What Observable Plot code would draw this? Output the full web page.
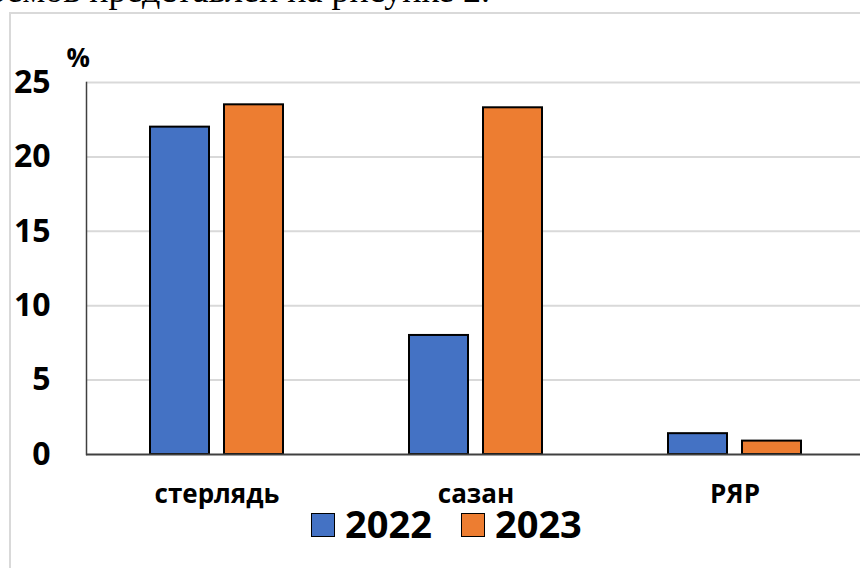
<!DOCTYPE html>
<html>
<head>
<meta charset="utf-8">
<script src="https://cdn.jsdelivr.net/npm/d3@7"></script>
<script src="https://cdn.jsdelivr.net/npm/@observablehq/plot@0.6"></script>
<style>
  html, body { margin: 0; padding: 0; background: #fff; }
  #page { position: relative; width: 860px; height: 568px; overflow: hidden; background: #fff; }
  #lead { position: absolute; right: 370px; top: -28px; font-family: "Liberation Serif", "DejaVu Serif", serif; font-size: 36px; color: #000; white-space: nowrap; line-height: 36px; }
  #box { position: absolute; left: 9px; top: 12px; width: 900px; height: 600px; border-left: 2px solid #d9d9d9; border-top: 2px solid #d9d9d9; box-sizing: border-box; }
  #chart { position: absolute; left: 0; top: 0; }
  #chart svg { overflow: visible; }
  #legend { position: absolute; top: 497px; left: 311px; display: flex; align-items: center; font-family: "Open Sans", sans-serif; font-weight: 700; font-size: 38px; line-height: normal; color: #000; }
  .item { display: flex; align-items: center; }
  .sw { width: 22px; height: 22px; border: 1.5px solid #000; margin-right: 10px; position: relative; top: 2px; }
  .item + .item { margin-left: 29px; }
</style>
</head>
<body>
<div id="page">
  <div id="lead">водоемов представлен на рисунке 2.</div>
  <div id="box"></div>
  <div id="chart"></div>
  <div id="legend"></div>
</div>
<script>
// Share of species by year, %
const categories = ["стерлядь", "сазан", "РЯР"];
const years = ["2022", "2023"];
const values2022 = [22.0, 8.0, 1.4];
const values2023 = [23.5, 23.3, 0.9];
const yTicks = [0, 5, 10, 15, 20, 25];
const unitLabel = "%";

const colors = { "2022": "#4472C4", "2023": "#ED7D31" };
const rows2022 = categories.map((c, i) => ({ category: c, year: "2022", value: values2022[i] }));
const rows2023 = categories.map((c, i) => ({ category: c, year: "2023", value: values2023[i] }));

const font = "'Open Sans', sans-serif";
const barStyle = { stroke: "#000", strokeWidth: 2, insetLeft: 100, insetRight: 100 };

const chart = Plot.plot({
  width: 860,
  height: 530,
  marginLeft: 86,
  marginRight: -4.5,
  marginTop: 82,
  marginBottom: 76,
  style: { fontFamily: font, background: "transparent", overflow: "visible" },
  x: { type: "band", domain: categories, padding: 0 },
  y: { domain: [0, 25] },
  marks: [
    Plot.ruleY(yTicks.filter(d => d > 0), { stroke: "#d9d9d9", strokeWidth: 2 }),
    Plot.barY(rows2022, { x: "category", y: "value", fill: colors["2022"], dx: -37, ...barStyle }),
    Plot.barY(rows2023, { x: "category", y: "value", fill: colors["2023"], dx: 37, ...barStyle }),
    Plot.ruleY([0], { stroke: "#404040", strokeWidth: 2 }),
    Plot.frame({ anchor: "left", stroke: "#404040", strokeWidth: 1.5 }),
    Plot.axisY({ ticks: yTicks, tickSize: 0, tickPadding: 36, fontSize: 32, fontWeight: "bold", fill: "#000", label: null, tickFormat: d => String(d) }),
    Plot.axisX({ tickSize: 0, tickPadding: 30, fontSize: 26, fontWeight: "bold", fill: "#000", label: null }),
    Plot.text([unitLabel], { frameAnchor: "top-left", text: d => d, dx: -20, dy: -34, fontSize: 26, fontWeight: "bold", fill: "#000", textAnchor: "start" })
  ]
});
document.getElementById("chart").appendChild(chart);

// Legend
const legend = document.getElementById("legend");
years.forEach(y => {
  const item = document.createElement("div");
  item.className = "item";
  const sw = document.createElement("div");
  sw.className = "sw";
  sw.style.background = colors[y];
  const label = document.createElement("span");
  label.textContent = y;
  item.appendChild(sw);
  item.appendChild(label);
  legend.appendChild(item);
});
</script>
</body>
</html>
